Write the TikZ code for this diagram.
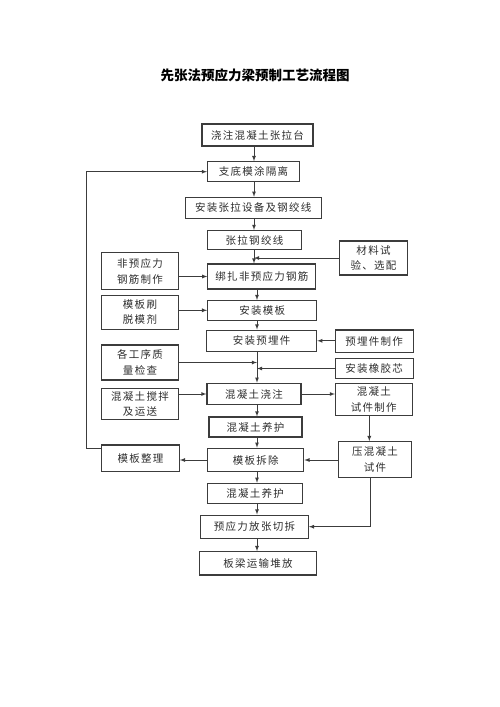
\documentclass[tikz,border=0pt]{standalone}
\usepackage{fontspec}
\setmainfont{Noto Sans CJK SC}
\newfontfamily\boxfont[LetterSpace=12]{Noto Sans CJK SC}
\usepackage{tikz}
\usetikzlibrary{positioning}
\usetikzlibrary{calc}
\usetikzlibrary{arrows}
\definecolor{boxgray}{RGB}{60,60,60}
\definecolor{textgray}{RGB}{45,45,45}
\tikzset{block/.style={rectangle,draw=boxgray,line width=1.1pt,inner sep=0pt,align=center,text=textgray,font=\boxfont\fontsize{10.5}{15.5}\selectfont}}
\tikzset{line/.style={boxgray,>=latex,line width=0.8pt}}
\tikzset{titletext/.style={font=\bfseries\fontsize{13.5}{16}\selectfont,text=black}}

\begin{document}
\begin{tikzpicture}[x=1pt,y=-1pt]
  \useasboundingbox (0,0) rectangle (500,707);
  % spine of the main column
  \coordinate (spA) at (254,0);
  \coordinate (spB) at (257,0);

  % Title
  \node[titletext] (title) at (255,75) {先张法预应力梁预制工艺流程图};

  % Main column
  \node[block,minimum width=111pt,minimum height=22pt] (pour) at (257.5,135) {浇注混凝土张拉台};
  \node[block,minimum width=92pt,minimum height=20pt] (sup) at (253.5,171.7) {支底模涂隔离};
  \node[block,minimum width=136pt,minimum height=21pt] (inst) at (253.3,207.8) {安装张拉设备及钢绞线};
  \node[block,minimum width=94pt,minimum height=19pt] (tens) at (254.5,240) {张拉钢绞线};
  \node[block,minimum width=108pt,minimum height=25pt] (bind) at (261.9,276.5) {绑扎非预应力钢筋};
  \node[block,minimum width=109pt,minimum height=19.5pt] (form) at (262.2,310.3) {安装模板};
  \node[block,minimum width=110pt,minimum height=21.5pt] (embed) at (261.7,340.8) {安装预埋件};
  \node[block,minimum width=94pt,minimum height=21.5pt] (cast) at (254,394) {混凝土浇注};
  \node[block,minimum width=93pt,minimum height=20pt] (cure) at (255.5,427) {混凝土养护};
  \node[block,minimum width=96pt,minimum height=23.5pt] (strip) at (255.8,460) {模板拆除};
  \node[block,minimum width=95pt,minimum height=20pt] (curetwo) at (255.2,493.3) {混凝土养护};
  \node[block,minimum width=107.6pt,minimum height=23.3pt] (cut) at (254.5,526.7) {预应力放张切拆};
  \node[block,minimum width=117.4pt,minimum height=23.3pt] (store) at (258,563.3) {板梁运输堆放};

  % Left column
  \node[block,minimum width=76.6pt,minimum height=37pt] (rebar) at (140,271.3) {非预应力\\钢筋制作};
  \node[block,minimum width=76.6pt,minimum height=34pt] (release) at (140,312.2) {模板刷\\脱模剂};
  \node[block,minimum width=76.6pt,minimum height=35pt] (check) at (140,362.5) {各工序质\\量检查};
  \node[block,minimum width=76.6pt,minimum height=31pt] (mix) at (140,403.8) {混凝土搅拌\\及运送};
  \node[block,minimum width=77.6pt,minimum height=26.5pt] (tidy) at (140.5,458.2) {模板整理};

  % Right column
  \node[block,minimum width=68.4pt,minimum height=34pt] (mat) at (373.5,258) {材料试\\验、选配};
  \node[block,minimum width=78.3pt,minimum height=22.7pt] (embedmk) at (374.2,341.3) {预埋件制作};
  \node[block,minimum width=78.3pt,minimum height=19.6pt] (core) at (374.2,368.5) {安装橡胶芯};
  \node[block,minimum width=76.6pt,minimum height=32pt] (spec) at (373.8,399.5) {混凝土\\试件制作};
  \node[block,minimum width=73.4pt,minimum height=35.6pt] (press) at (375,459.5) {压混凝土\\试件};

  % Arrows down the main column
  \draw[line,->] (pour.south -| spA) -- (sup.north -| spA);
  \draw[line,->] (sup.south -| spA) -- (inst.north -| spA);
  \draw[line,->] (inst.south -| spA) -- (tens.north -| spA);
  \draw[line,->] (tens.south -| spA) -- (bind.north -| spA);
  \draw[line,->] (bind.south -| spB) -- (form.north -| spB);
  \draw[line,->] (form.south -| spB) -- (embed.north -| spB);
  \draw[line,->] (embed.south -| spB) -- (cast.north -| spB);
  \draw[line,->] (cast.south -| spB) -- (cure.north -| spB);
  \draw[line,->] (cure.south -| spB) -- (strip.north -| spB);
  \draw[line,->] (strip.south -| spB) -- (curetwo.north -| spB);
  \draw[line,->] (curetwo.south -| spB) -- (cut.north -| spB);
  \draw[line,->] (cut.south -| spB) -- (store.north -| spB);

  % Side inputs
  \draw[line,->] (mat.west) -- (mat.west -| spA);
  \draw[line,->] (rebar.east |- bind) -- (bind);
  \draw[line,->] (release.east |- form) -- (form);
  \draw[line,->] (embedmk.west |- embed) -- (embed);
  \draw[line,->] (check.east) -- (check.east -| spB);
  \draw[line,->] (core.west) -- (core.west -| spB);
  \draw[line,->] (mix.east |- cast) -- (cast);
  \draw[line,->] (cast.east) -- (cast.east -| spec.west);

  % Test specimens
  \draw[line,->] ([xshift=-4.5pt]spec.south) -- ([xshift=-4.5pt]spec.south |- press.north);
  \draw[line,->] (press.west |- strip) -- (strip);
  \draw[line,->] ([xshift=-5pt]press.south) |- (cut);

  % Formwork back to the start
  \draw[line,->] (strip.west) -- (strip.west -| tidy.east);
  \draw[line,->] ([yshift=-4pt]tidy.north west) -- ++(-15,0) |- (sup);
\end{tikzpicture}
\end{document}
